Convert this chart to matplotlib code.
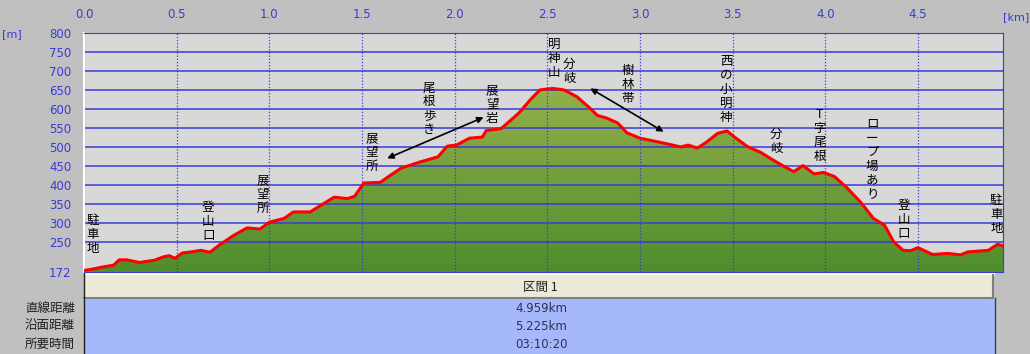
import numpy as np
import matplotlib.pyplot as plt
from matplotlib.colors import LinearSegmentedColormap

plt.rcParams['font.family'] = ['Noto Sans CJK JP', 'DejaVu Sans']

# elevation profile (distance km, elevation m)
dist = [0.00, 0.05, 0.10, 0.16, 0.19, 0.23, 0.30, 0.38, 0.43, 0.46, 0.49, 0.53,
        0.58, 0.63, 0.68, 0.73, 0.81, 0.88, 0.95, 1.00, 1.08, 1.13, 1.22, 1.29,
        1.35, 1.42, 1.46, 1.51, 1.60, 1.64, 1.71, 1.81, 1.91, 1.96, 2.01, 2.08,
        2.15, 2.17, 2.25, 2.30, 2.35, 2.41, 2.46, 2.53, 2.59, 2.66, 2.73, 2.77,
        2.82, 2.88, 2.93, 3.00, 3.13, 3.22, 3.26, 3.31, 3.36, 3.42, 3.47, 3.51,
        3.58, 3.65, 3.72, 3.78, 3.83, 3.88, 3.94, 3.99, 4.05, 4.12, 4.19, 4.26,
        4.32, 4.37, 4.42, 4.46, 4.50, 4.58, 4.66, 4.73, 4.77, 4.88, 4.93, 4.959]
elev = [176, 180, 185, 190, 204, 204, 197, 203, 212, 215, 208, 222,
        225, 229, 224, 243, 269, 288, 285, 303, 313, 330, 330, 351,
        369, 365, 371, 406, 408, 422, 445, 461, 475, 503, 506, 524,
        527, 544, 549, 570, 592, 626, 651, 655, 651, 633, 603, 584,
        577, 564, 538, 524, 511, 501, 506, 498, 514, 537, 543, 527,
        502, 487, 466, 449, 436, 452, 430, 434, 423, 392, 356, 313,
        295, 251, 229, 228, 236, 218, 221, 217, 225, 229, 245, 241]

x_ticks = [0.0, 0.5, 1.0, 1.5, 2.0, 2.5, 3.0, 3.5, 4.0, 4.5]
y_ticks = [172, 250, 300, 350, 400, 450, 500, 550, 600, 650, 700, 750, 800]

# landmarks
marks = ['駐車地', '登山口', '展望所', '展望所', '尾根歩き', '展望岩', '明神山', '分岐',
         '樹林帯', '西の小明神', '分岐', 'T字尾根', 'ロープ場あり', '登山口', '駐車地']
mark_x = [0.047, 0.67, 0.967, 1.553, 1.863, 2.203, 2.538, 2.619,
          2.936, 3.465, 3.735, 3.969, 4.253, 4.422, 4.923]
mark_y = [271, 306, 376, 487, 601, 613, 734, 699, 664, 653, 515, 532, 469, 309, 323]

row_names = ['直線距離', '沿面距離', '所要時間']
row_vals = ['4.959km', '5.225km', '03:10:20']
section = '区間 1'

blue = '#3a3ad8'
fig = plt.figure(figsize=(10.3, 3.54), dpi=100, facecolor='#c0c0c0')

# background / table layer in pixel coords
bg = fig.add_axes([0, 0, 1, 1], zorder=0)
bg.set_xlim(0, 1030)
bg.set_ylim(354, 0)
bg.axis('off')
bg.add_patch(plt.Rectangle((84, 273), 911, 2, fc='white', ec='none'))
bg.add_patch(plt.Rectangle((84, 275), 909, 23, fc='#ece9d8', ec='none'))
bg.plot([84, 993, 993], [298, 298, 275], color='#808080', lw=1.5)
bg.add_patch(plt.Rectangle((84, 298), 911, 56, fc='#a5b8fc', ec='none'))
bg.plot([84, 84], [273, 354], color='#202020', lw=1)
bg.plot([995, 995], [298, 354], color='#404040', lw=1)
bg.text(540, 287, section, ha='center', va='center', fontsize=9, color='#202020')
for i in range(3):
    yy = 308 + i * 18
    bg.text(75, yy, row_names[i], ha='right', va='center', fontsize=9, color='#202020')
    bg.text(541, yy, row_vals[i], ha='center', va='center', fontsize=8.5,
            color='#303050', family='DejaVu Sans')
bg.text(12, 34, '[m]', ha='center', va='center', fontsize=8, color=blue, family='DejaVu Sans')
bg.text(1016, 17, '[km]', ha='center', va='center', fontsize=8, color=blue, family='DejaVu Sans')

ax = fig.add_axes([84/1030, 82/354, 919/1030, 238.7/354], zorder=1)
ax.set_facecolor('#d8d8d8')

# gradient fill under profile
cmap = LinearSegmentedColormap.from_list('g', ['#4f8e2d', '#93b04c'])
grad = np.linspace(0, 1, 256).reshape(-1, 1)
poly = ax.fill_between(dist, elev, 172, color='none')
im = ax.imshow(grad, extent=[0, 4.959, 172, 660], origin='lower', cmap=cmap,
               aspect='auto', zorder=1)
im.set_clip_path(poly.get_paths()[0], transform=ax.transData)
ax.set_xlim(0, 4.959)
ax.set_ylim(172, 800)

for v in y_ticks[1:]:
    ax.axhline(v, color=blue, lw=1.1, zorder=2)
for v in x_ticks:
    ax.axvline(v, color=blue, lw=0.9, ls=(0, (1, 1.5)), zorder=2)
ax.plot(dist, elev, color='#ff0000', lw=2.2, zorder=3)

ax.xaxis.tick_top()
ax.set_xticks(x_ticks)
ax.set_xticklabels([f'{v:.1f}' for v in x_ticks])
ax.set_yticks(y_ticks)
ax.tick_params(length=0, pad=9, labelsize=8.5, labelcolor=blue)
for lab in ax.get_xticklabels() + ax.get_yticklabels():
    lab.set_family('DejaVu Sans')
for s in ['top', 'right', 'bottom']:
    ax.spines[s].set_color(blue)
ax.spines['left'].set_color('white')
ax.spines['left'].set_linewidth(1.5)

for t, x, y in zip(marks, mark_x, mark_y):
    ax.text(x, y, '\n'.join(t), ha='center', va='center', fontsize=9,
            linespacing=1.1, color='black', zorder=4)

arrow = dict(arrowstyle='<|-|>', color='black', lw=1.2, mutation_scale=9, shrinkA=0, shrinkB=0)
ax.annotate('', xy=(1.636, 471), xytext=(2.156, 579), arrowprops=arrow, zorder=4)
ax.annotate('', xy=(2.732, 655), xytext=(3.128, 541), arrowprops=arrow, zorder=4)

fig.savefig('out.png', dpi=100, facecolor=fig.get_facecolor())
